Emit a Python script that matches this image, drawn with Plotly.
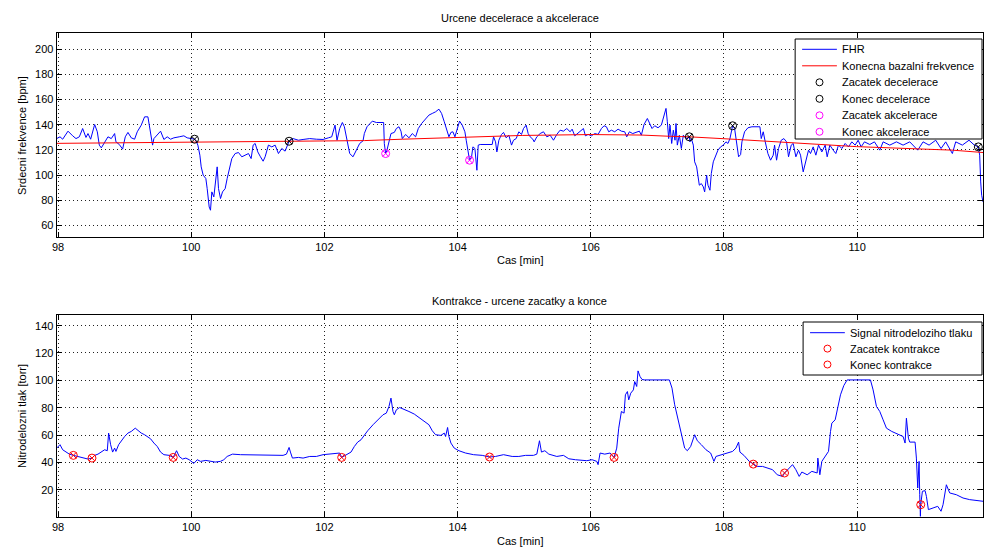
import plotly.graph_objects as go

# ---- Fetal heart rate (FHR) trace [min, bpm] ----
fhr_t = [97.98, 98.03, 98.07, 98.15, 98.22, 98.27, 98.32, 98.37, 98.42, 98.45, 98.49, 98.55, 98.59,
         98.62, 98.65, 98.70, 98.75, 98.80, 98.85, 98.87, 98.92, 98.97, 99.01, 99.05, 99.10, 99.15,
         99.19, 99.25, 99.30, 99.35, 99.38, 99.42, 99.44, 99.49, 99.54, 99.59, 99.64, 99.69, 99.74,
         99.82, 99.89, 99.94, 100.01, 100.05, 100.07, 100.10, 100.13, 100.15, 100.18, 100.22, 100.24,
         100.27, 100.29, 100.31, 100.34, 100.36, 100.39, 100.41, 100.44, 100.47, 100.51, 100.54,
         100.57, 100.61, 100.66, 100.71, 100.76, 100.81, 100.86, 100.90, 100.93, 100.96, 101.00,
         101.04, 101.08, 101.11, 101.16, 101.21, 101.26, 101.31, 101.36, 101.41, 101.47, 101.53,
         101.61, 101.68, 101.78, 101.88, 101.98, 102.06, 102.11, 102.16, 102.19, 102.23, 102.27,
         102.30, 102.34, 102.38, 102.43, 102.48, 102.53, 102.58, 102.60, 102.64, 102.68, 102.72,
         102.78, 102.88, 102.89, 102.90, 102.92, 102.94, 102.97, 103.00, 103.05, 103.08, 103.12,
         103.15, 103.17, 103.22, 103.27, 103.32, 103.37, 103.41, 103.46, 103.52, 103.57, 103.62,
         103.67, 103.72, 103.76, 103.80, 103.82, 103.85, 103.87, 103.90, 103.93, 103.96, 104.00,
         104.03, 104.07, 104.11, 104.13, 104.16, 104.18, 104.21, 104.23, 104.26, 104.29, 104.31,
         104.34, 104.52, 104.54, 104.57, 104.59, 104.62, 104.66, 104.69, 104.73, 104.77, 104.81,
         104.84, 104.88, 104.92, 104.96, 104.99, 105.03, 105.06, 105.09, 105.13, 105.15, 105.19,
         105.24, 105.29, 105.34, 105.39, 105.44, 105.49, 105.54, 105.59, 105.64, 105.69, 105.72,
         105.76, 105.80, 105.84, 105.89, 105.92, 105.96, 106.01, 106.06, 106.11, 106.16, 106.20,
         106.235, 106.27, 106.31, 106.36, 106.41, 106.46, 106.51, 106.54, 106.58, 106.63, 106.68,
         106.73, 106.76, 106.80, 106.85, 106.88, 106.92, 106.96, 107.01, 107.06, 107.10, 107.13,
         107.15, 107.17, 107.19, 107.215, 107.24, 107.265, 107.28, 107.30, 107.33, 107.36, 107.39,
         107.43, 107.48, 107.49, 107.51, 107.54, 107.56, 107.59, 107.63, 107.66, 107.69, 107.71,
         107.74, 107.76, 107.79, 107.81, 107.84, 107.88, 107.91, 107.95, 107.99, 108.03, 108.06,
         108.09, 108.11, 108.13, 108.16, 108.19, 108.22, 108.25, 108.27, 108.31, 108.36, 108.42,
         108.54, 108.56, 108.59, 108.62, 108.66, 108.70, 108.74, 108.76, 108.79, 108.82, 108.86,
         108.90, 108.94, 108.97, 109.01, 109.04, 109.08, 109.12, 109.15, 109.19, 109.23, 109.27,
         109.30, 109.34, 109.38, 109.42, 109.47, 109.52, 109.55, 109.59, 109.64, 109.68, 109.72,
         109.77, 109.82, 109.87, 109.92, 109.97, 110.015, 110.06, 110.11, 110.19, 110.26, 110.34,
         110.39, 110.49, 110.59, 110.69, 110.79, 110.91, 110.99, 111.08, 111.18, 111.26, 111.33,
         111.43, 111.48, 111.58, 111.68, 111.76, 111.82, 111.84, 111.855, 111.87, 111.89]
fhr_v = [129, 130.4, 128.5, 134.9, 131.2, 129, 130.4, 137, 129.9, 133, 128.5, 140.2, 134.4,
         123.8, 121.6, 126.4, 130.4, 129, 133, 126.4, 124.3, 120.6, 130.4, 133.9, 129.6, 128.5,
         134.4, 139.7, 146.3, 146.3, 137, 123.8, 129, 132.3, 134.9, 128.3, 130.4, 128.5, 129.6,
         130.4, 131.2, 129.6, 129, 128.5, 127.5, 123.8, 115.8, 106.5, 99.9, 97.2, 89.2,
         74.6, 72, 86.6, 82.6, 94.5, 106.5, 89.2, 81.3, 86.6, 89.2, 97.2,
         103.8, 113.1, 117.1, 117.9, 114.5, 115.8, 117.1, 113.1, 123.8, 125.1, 118.4,
         114.5, 111, 114.5, 123.8, 122.4, 123.8, 117.1, 121.1, 119, 126.9, 129,
         127.7, 128.3, 129, 128.5, 128.3, 129.6, 130.4, 139.7, 127.7, 137, 141.8,
         138.4, 129, 117.1, 114.5, 119.8, 125.1, 127.2, 133, 138.4, 141, 142.9,
         141.8, 141.8, 141.8, 125, 117.1, 119.8, 127.7, 133, 133.9, 137, 138.4,
         134.9, 129, 132.3, 129.6, 133, 130.4, 137, 141, 145, 147.7, 149,
         150.3, 152.4, 149, 142.4, 138.4, 134.4, 130.4, 133.9, 134.4, 130.4, 138.4,
         142.9, 139.7, 134.4, 127.7, 115.8, 111.8, 114.5, 122.4, 121.1, 103.8, 123.8,
         124.3, 124.3, 130.4, 126.4, 118.4, 127.7, 132.3, 133.9, 129.6, 131.7, 123.8,
         127.7, 129, 134.4, 132.3, 137, 139.7, 133, 130.4, 128.5, 126.4, 130.4,
         133, 134.4, 130.4, 131.7, 127.7, 132.3, 135.7, 134.9, 137, 134.4, 136.5,
         131.2, 133, 134.4, 137, 131.2, 132.3, 131.2, 133, 132.3, 137, 139.2,
         138.4, 134.4, 135.7, 134.4, 136.5, 134.9, 134.4, 130.4, 134.4, 133, 133.9,
         134.9, 131.7, 140.2, 145, 141, 137, 139.2, 137.6, 139.7, 146.3, 153,
         142.4, 129, 139.7, 125.1, 135.7, 127.7, 141, 123.8, 131.7, 121.1, 131.7,
         129, 130.4, 126.4, 129, 123.8, 110.5, 106.5, 91.9, 93.2, 90.6, 86.6,
         99.9, 91.9, 87.9, 101.2, 110.5, 115.8, 119.8, 122.4, 123.8, 126.4, 125.1,
         129, 135.7, 139.2, 137, 123.8, 114.5, 116.3, 126.4, 134.4, 137.6, 138.4,
         138.4, 129, 134.4, 126.4, 117.1, 111.8, 115.8, 123.8, 111.8, 121.1, 127.7,
         129, 126.4, 114.5, 123.8, 125.1, 114.5, 119.8, 115.8, 102.5, 111.8, 119.8,
         117.1, 122.4, 115.8, 123.8, 118.4, 123.8, 114.5, 123.8, 119.8, 117.1, 123.8,
         121.1, 125.1, 122.4, 126.4, 123.8, 127.7, 122.4, 126.4, 124.3, 126.4, 119.8,
         126.4, 123.8, 126.4, 123.8, 126.4, 119.8, 126.4, 123.8, 127.7, 121.1, 126.4,
         117.1, 126.4, 123.8, 127.7, 123.8, 122.4, 115.8, 94.5, 83.9, 78.6]

# ---- Final baseline frequency ----
base_t = [97.98, 99.0, 100.0, 101.47, 102.6, 103.17, 103.87, 104.57, 104.97, 106.0, 106.76,
          107.2, 107.48, 108.2, 109.19, 109.99, 111.43, 111.89]
base_v = [125.2, 125.7, 126.2, 126.8, 127.4, 128.5, 129.5, 130.8, 131.5, 132.2, 131.8,
          130.8, 130.4, 128.3, 125.1, 122.6, 119.8, 117.9]

# ---- Detected decelerations / accelerations ----
dec_start_t = [100.05, 107.48, 111.82]
dec_start_v = [128.5, 130.4, 122.4]
dec_end_t = [101.47, 108.13]
dec_end_v = [126.9, 139.2]
acc_start_t = [102.92]
acc_start_v = [117.1]
acc_end_t = [104.18]
acc_end_v = [111.8]

# ---- Intrauterine pressure signal [min, torr] ----
toco_t = [97.98, 98.03, 98.07, 98.12, 98.17, 98.23, 98.30, 98.37, 98.45, 98.51, 98.55, 98.60,
          98.65, 98.70, 98.74, 98.76, 98.79, 98.82, 98.85, 98.87, 98.91, 98.95, 99.00, 99.05,
          99.10, 99.16, 99.20, 99.25, 99.30, 99.34, 99.39, 99.44, 99.49, 99.54, 99.59, 99.67,
          99.73, 99.78, 99.82, 99.87, 99.92, 99.97, 100.02, 100.04, 100.09, 100.14, 100.22,
          100.29, 100.36, 100.44, 100.49, 100.54, 100.59, 100.62, 100.74, 101.14, 101.19, 101.26,
          101.38, 101.43, 101.47, 101.49, 101.52, 101.61, 101.68, 101.78, 101.88, 101.98, 102.13,
          102.23, 102.26, 102.33, 102.40, 102.45, 102.50, 102.55, 102.60, 102.65, 102.73, 102.80,
          102.88, 102.93, 102.97, 103.00, 103.03, 103.05, 103.08, 103.13, 103.20, 103.27, 103.35,
          103.42, 103.50, 103.57, 103.62, 103.67, 103.75, 103.80, 103.82, 103.85, 103.87, 103.90,
          103.95, 104.02, 104.12, 104.24, 104.37, 104.48, 104.57, 104.69, 104.82, 104.92, 105.02,
          105.14, 105.19, 105.23, 105.26, 105.31, 105.37, 105.42, 105.49, 105.59, 105.67, 105.77,
          105.87, 105.94, 106.02, 106.09, 106.11, 106.14, 106.21, 106.29, 106.35, 106.39, 106.42,
          106.46, 106.50, 106.52, 106.55, 106.57, 106.60, 106.64, 106.66, 106.69, 106.71, 106.74,
          106.77, 106.81, 107.18, 107.22, 107.26, 107.31, 107.36, 107.41, 107.45, 107.50, 107.56,
          107.60, 107.66, 107.73, 107.80, 107.85, 107.88, 107.96, 108.03, 108.13, 108.18, 108.22,
          108.24, 108.30, 108.38, 108.44, 108.50, 108.58, 108.65, 108.73, 108.80, 108.88, 108.91,
          108.98, 109.03, 109.08, 109.13, 109.17, 109.25, 109.32, 109.40, 109.41, 109.44, 109.47,
          109.52, 109.57, 109.60, 109.62, 109.67, 109.71, 109.75, 109.80, 109.85, 110.20, 110.24,
          110.29, 110.34, 110.39, 110.44, 110.52, 110.62, 110.69, 110.72, 110.74, 110.77, 110.79,
          110.87, 110.89, 110.91, 110.93, 110.94, 110.95, 110.955, 110.98, 111.02, 111.04, 111.07,
          111.14, 111.21, 111.26, 111.29, 111.34, 111.39, 111.49, 111.59, 111.69, 111.79, 111.89]
toco_v = [50.4, 52.9, 49.2, 47.5, 46, 45.1, 44.3, 43.1, 42.4, 43.1, 45.1, 46,
          47.5, 49.2, 48.5, 61.4, 52.9, 47.5, 50.4, 48, 52.9, 55.8, 58.9, 61.4,
          62.6, 65, 63.1, 61.4, 60.2, 58.9, 57.2, 54.1, 51.6, 47.5, 45.6, 45.1,
          43.6, 48.5, 44.3, 42.4, 43.1, 41.9, 40.2, 39.2, 41.9, 40.7, 41.4,
          40.7, 40.2, 40.7, 41.9, 44.3, 45.1, 46, 45.6, 45.6, 45.1, 45.3,
          45.1, 46, 50.9, 47.5, 43.1, 43.6, 43.1, 44.3, 44.3, 45.6, 46,
          46.8, 43.6, 45.6, 47.5, 51.6, 54.8, 56.5, 60.2, 63.1, 67.5, 71.1,
          74.8, 76, 80.9, 87, 77.2, 74.8, 78.4, 80.1, 78.9, 77.2, 75.3,
          72.8, 70.4, 67.5, 63.1, 60.2, 59.7, 61.4, 58.9, 65.5, 58.9, 54.1,
          50.4, 48.5, 46.8, 45.6, 45.1, 43.9, 44.3, 45.6, 44.3, 44.3, 45.1,
          45.1, 46, 55.8, 47.5, 48.5, 46, 45.1, 44.3, 45.1, 42.6, 41.9,
          41.4, 41.2, 41.9, 40.7, 38.3, 46.8, 46, 46.8, 43.6, 50.4, 65,
          77.2, 76, 89.4, 91.8, 85.7, 90.6, 93, 99.1, 95.5, 106.9, 102.8,
          100.6, 100.3, 100.3, 94.3, 82.1, 71.1, 60.2, 50.4, 48.5, 51.6, 60.2,
          55.8, 52.9, 49.2, 46.8, 40.7, 44.3, 45.6, 46.8, 48, 50.4, 54.8,
          47.5, 45.1, 40.7, 38.7, 37, 37, 35.8, 34.6, 30.9, 29.7, 32.2,
          35.8, 38.3, 34.6, 29.7, 32.9, 30.9, 33.4, 32.2, 43.1, 30.9, 40.7,
          44.3, 48, 62.6, 68.7, 71.1, 80.9, 89.4, 96.2, 100.3, 100.3, 93,
          80.9, 77.2, 71.1, 65, 62.6, 60.2, 58.9, 54.1, 72.3, 57.7, 54.8,
          54.8, 43.1, 21.2, 40.7, 16.3, 0.5, 9.0, 18.8, 19.3, 15.1, 5.4,
          6.6, 7.8, 4.2, 9.0, 23.6, 17.6, 16.3, 13.9, 12.7, 11.9, 11.5]

# ---- Detected contraction starts / ends ----
con_start_t = [98.51, 102.26, 106.35, 108.91]
con_start_v = [43.1, 43.6, 43.6, 32.2]
con_end_t = [98.23, 99.73, 104.48, 108.44, 110.955]
con_end_v = [45.1, 43.6, 43.9, 38.7, 9.0]

x_ticks = [98, 100, 102, 104, 106, 108, 110]
y_ticks_top = [60, 80, 100, 120, 140, 160, 180, 200]
y_ticks_bot = [20, 40, 60, 80, 100, 120, 140]

FONT = "Liberation Sans, Arial, sans-serif"
W, H = 984, 550
BLUE, RED, MAG, BLACK = "#0000ff", "#ff0000", "#ff00ff", "#000000"

fig = go.Figure()


def px_x(p):
    return p / W


def px_y(p):
    return 1 - p / H


def events(t, v, color, xa, ya):
    fig.add_trace(go.Scatter(x=t, y=v, mode="markers", showlegend=False, xaxis=xa, yaxis=ya,
                             marker=dict(symbol="circle-x-open", size=8, color=color,
                                         line=dict(width=1, color=color))))


# top panel
fig.add_trace(go.Scatter(x=fhr_t, y=fhr_v, mode="lines", showlegend=False,
                         line=dict(color=BLUE, width=1), xaxis="x", yaxis="y"))
fig.add_trace(go.Scatter(x=base_t, y=base_v, mode="lines", showlegend=False,
                         line=dict(color=RED, width=1), xaxis="x", yaxis="y"))
events(dec_start_t, dec_start_v, BLACK, "x", "y")
events(dec_end_t, dec_end_v, BLACK, "x", "y")
events(acc_start_t, acc_start_v, MAG, "x", "y")
events(acc_end_t, acc_end_v, MAG, "x", "y")

# bottom panel
fig.add_trace(go.Scatter(x=toco_t, y=toco_v, mode="lines", showlegend=False,
                         line=dict(color=BLUE, width=1), xaxis="x2", yaxis="y2"))
events(con_start_t, con_start_v, RED, "x2", "y2")
events(con_end_t, con_end_v, RED, "x2", "y2")

axis_common = dict(showline=True, linecolor="#000", linewidth=1, mirror="ticks",
                   ticks="inside", ticklen=5, tickcolor="#000",
                   showgrid=True, gridcolor="#222", griddash="1px,3px", gridwidth=1,
                   zeroline=False, tickfont=dict(family=FONT, size=11, color="#000"))

fig.update_layout(
    width=W, height=H, margin=dict(l=0, r=0, t=0, b=0),
    paper_bgcolor="white", plot_bgcolor="white",
    font=dict(family=FONT, size=11, color="#000"),
    showlegend=False,
    xaxis=dict(domain=[px_x(52), 1.0], anchor="y", range=[97.98, 111.89],
               tickvals=x_ticks, **axis_common),
    yaxis=dict(domain=[px_y(237), px_y(33)], anchor="x", range=[50.7, 213],
               tickvals=y_ticks_top, **axis_common),
    xaxis2=dict(domain=[px_x(52), 1.0], anchor="y2", range=[97.98, 111.89],
                tickvals=x_ticks, **axis_common),
    yaxis2=dict(domain=[px_y(517), px_y(315)], anchor="x2", range=[0, 147.8],
                tickvals=y_ticks_bot, **axis_common),
)


def label(text, x, y, angle=0, anchor="center"):
    fig.add_annotation(text=text, x=x, y=y, xref="paper", yref="paper",
                       xanchor=anchor, yanchor="middle", showarrow=False, borderpad=0,
                       textangle=angle, font=dict(family=FONT, size=11, color="#000"))


label("Urcene decelerace a akcelerace", px_x(518), px_y(18))
label("Cas [min]", px_x(518), px_y(260))
label("Srdecni frekvence [bpm]", px_x(17), px_y(135), -90)
label("Kontrakce - urcene zacatky a konce", px_x(518), px_y(301))
label("Cas [min]", px_x(518), px_y(541))
label("Nitrodelozni tlak [torr]", px_x(17), px_y(416), -90)


# compact MATLAB-style legend boxes: (kind, colour, text) per row
def legend_box(left, top, right, bottom, rows, row0, step, sym_l, sym_r, text_x):
    fig.add_shape(type="rect", xref="paper", yref="paper", layer="above",
                  x0=px_x(left), x1=px_x(right), y0=px_y(bottom), y1=px_y(top),
                  fillcolor="white", line=dict(color="#000", width=1))
    for i, (kind, color, text) in enumerate(rows):
        yc = row0 + i * step
        if kind == "line":
            fig.add_shape(type="line", xref="paper", yref="paper", layer="above",
                          x0=px_x(sym_l), x1=px_x(sym_r), y0=px_y(yc), y1=px_y(yc),
                          line=dict(color=color, width=1))
        else:
            xc = (sym_l + sym_r) / 2
            fig.add_shape(type="circle", xref="paper", yref="paper", layer="above",
                          xsizemode="pixel", ysizemode="pixel",
                          xanchor=px_x(xc), yanchor=px_y(yc),
                          x0=-3.5, x1=3.5, y0=-3.5, y1=3.5,
                          line=dict(color=color, width=1))
        label(text, px_x(text_x), px_y(yc), anchor="left")


legend_box(795, 39, 983, 139,
           [("line", BLUE, "FHR"),
            ("line", RED, "Konecna bazalni frekvence"),
            ("marker", BLACK, "Zacatek decelerace"),
            ("marker", BLACK, "Konec decelerace"),
            ("marker", MAG, "Zacatek akcelerace"),
            ("marker", MAG, "Konec akcelerace")],
           49.3, 16.5, 802, 837, 841)

legend_box(803, 322, 983, 375,
           [("line", BLUE, "Signal nitrodeloziho tlaku"),
            ("marker", RED, "Zacatek kontrakce"),
            ("marker", RED, "Konec kontrakce")],
           332.7, 15.9, 810, 845, 849)

fig.write_html("out.html")
